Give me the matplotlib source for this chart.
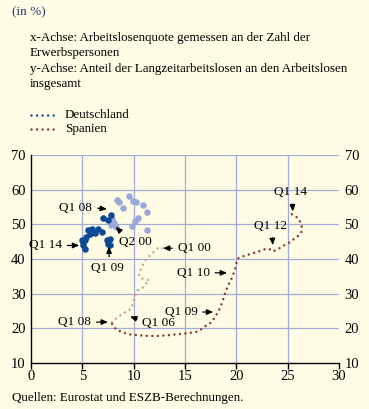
import numpy as np
import matplotlib
matplotlib.use("Agg")
import matplotlib.pyplot as plt

plt.rcParams['font.family'] = ['Liberation Serif', 'DejaVu Serif']

# Deutschland, 2000-2007 (hell) und 2008-2014 (dunkel)
de_light_x = [8.35, 8.6, 9.0, 9.57, 9.9, 10.2, 10.9, 11.3, 10.45, 10.1, 9.8, 11.3, 7.9, 8.1, 7.8, 8.25]
de_light_y = [56.9, 56.4, 54.6, 58.2, 56.8, 56.4, 55.5, 53.6, 51.7, 51.0, 49.4, 48.3, 51.5, 50.4, 49.8, 49.3]
de_dark_x = [7.76, 7.5, 7.04, 6.9, 6.55, 6.2, 5.9, 5.6, 5.75, 5.4, 5.26, 5.1, 5.0, 5.1, 5.26, 7.4, 7.7, 7.5, 7.7]
de_dark_y = [52.8, 51.3, 51.7, 47.8, 48.6, 47.4, 48.6, 48.3, 47.3, 46.3, 45.4, 44.9, 45.6, 43.9, 42.9, 45.4, 45.9, 44.4, 44.0]

# Spanien, Verlauf Q1 2000 - Q1 2008 (hell) und Q1 2008 - Q1 2014 (dunkel)
es_light_x = [12.8, 12.46, 11.78, 11.1, 10.7, 10.5, 10.6, 11.0, 11.5, 11.3, 11.1, 10.8, 10.4, 10.2,
              10.1, 9.9, 9.8, 9.6, 9.35, 9.0, 8.7, 8.35, 8.0, 7.85, 7.9]
es_light_y = [43.1, 43.4, 41.6, 39.5, 37.0, 35.9, 34.7, 34.1, 33.9, 33.3, 32.4, 31.5, 31.0, 30.1,
              28.7, 27.2, 25.8, 25.3, 25.1, 24.2, 23.7, 23.0, 22.2, 21.6, 21.3]
es_dark_x = [7.9, 8.3, 8.8, 9.5, 10.4, 11.4, 12.4, 13.3, 14.3, 15.3, 16.3, 16.7, 17.1, 17.6, 17.9,
             18.2, 18.6, 18.9, 19.2, 19.6, 19.9, 20.1, 20.5, 21.0, 22.0, 22.95, 23.4, 23.6, 24.2,
             24.7, 25.2, 25.7, 26.0, 26.3, 26.4, 26.3, 26.0, 25.8, 25.4]
es_dark_y = [21.3, 19.6, 19.0, 18.3, 18.0, 17.8, 17.8, 18.0, 18.3, 18.6, 19.1, 20.0, 20.9, 21.8, 23.2,
             24.6, 27.2, 30.1, 32.4, 34.7, 37.3, 40.1, 40.6, 41.1, 42.0, 43.0, 42.7, 42.2, 43.1,
             44.0, 44.8, 46.0, 46.6, 47.4, 48.9, 50.3, 51.7, 52.3, 52.9]

xticks = [0, 5, 10, 15, 20, 25, 30]
yticks = [10, 20, 30, 40, 50, 60, 70]

bg = '#FEFCE4'
grid_c = '#A3AAD6'
blue_dark = '#0E4A93'
blue_light = '#9AA8D8'
red_dark = '#8A3A2E'
red_light = '#CFA096'

fig = plt.figure(figsize=(3.69, 4.09), dpi=100, facecolor=bg)
ax = fig.add_axes([0.084, 0.1125, 0.8347, 0.5086], facecolor=bg)

for v in xticks[1:-1]:
    ax.axvline(v, color=grid_c, lw=0.9, zorder=0)
for v in yticks[1:]:
    ax.axhline(v, color=grid_c, lw=0.9, zorder=0)

dot = (0, (0.01, 2.2))
ax.plot(es_light_x, es_light_y, color=red_light, lw=1.8, ls=dot, dash_capstyle='round', zorder=2)
ax.plot(es_dark_x, es_dark_y, color=red_dark, lw=1.8, ls=dot, dash_capstyle='round', zorder=2)
ax.scatter(de_light_x, de_light_y, s=22, color=blue_light, lw=0, zorder=3)
ax.scatter(de_dark_x, de_dark_y, s=22, color=blue_dark, lw=0, zorder=3)

ax.set_xlim(0, 30)
ax.set_ylim(10, 70)
ax.set_xticks(xticks)
ax.set_yticks(yticks)
ax.spines['top'].set_visible(False)
ax.spines['right'].set_visible(False)
ax.spines['left'].set_linewidth(1.0)
ax.spines['bottom'].set_linewidth(1.0)
ax.tick_params(axis='x', length=4, width=1.0, labelsize=10.5, pad=1)
ax.tick_params(axis='y', length=0, labelsize=10.5, pad=4, labelright=True)

arw = dict(arrowstyle='-|>,head_length=0.4,head_width=0.17', color='black', lw=0.9,
           shrinkA=2, shrinkB=0)
fs = 9.5

def note(txt, xy, xytext, ha, va, rel):
    ap = dict(arw, relpos=rel)
    ax.annotate(txt, xy=xy, xytext=xytext, ha=ha, va=va, fontsize=fs,
                arrowprops=ap, zorder=5)

# Deutschland
note('Q1 08', (7.4, 54.4), (5.95, 54.8), 'right', 'center', (1, 0.5))
note('Q2 00', (8.25, 49.3), (8.55, 44.8), 'left', 'center', (0.2, 1))
note('Q1 14', (4.7, 43.9), (3.0, 43.9), 'right', 'center', (1, 0.5))
note('Q1 09', (7.6, 43.6), (7.45, 37.3), 'center', 'center', (0.55, 1))
# Spanien
note('Q1 00', (12.85, 43.1), (14.3, 43.1), 'left', 'center', (0, 0.5))
note('Q1 08', (7.5, 21.8), (5.85, 21.8), 'right', 'center', (1, 0.5))
note('Q1 06', (9.64, 23.4), (10.85, 21.5), 'left', 'center', (0, 0.7))
note('Q1 09', (17.75, 24.7), (16.2, 24.7), 'right', 'center', (1, 0.5))
note('Q1 10', (19.1, 36.0), (17.4, 36.0), 'right', 'center', (1, 0.5))
note('Q1 12', (23.56, 44.0), (23.3, 49.4), 'center', 'center', (0.55, 0))
note('Q1 14', (25.5, 53.7), (25.27, 59.2), 'center', 'center', (0.55, 0))

fig.text(0.0325, 0.971, '(in %)', fontsize=9.5, color='#23396E', va='center')
lines = ['x-Achse: Arbeitslosenquote gemessen an der Zahl der',
         'Erwerbspersonen',
         'y-Achse: Anteil der Langzeitarbeitslosen an den Arbeitslosen',
         'insgesamt']
for t, yy in zip(lines, [0.907, 0.870, 0.831, 0.795]):
    fig.text(0.081, yy, t, fontsize=9.4, va='center')

for lab, c, yy in [('Deutschland', blue_dark, 0.719), ('Spanien', red_dark, 0.685)]:
    fig.add_artist(plt.Line2D([0.085, 0.147], [yy, yy], transform=fig.transFigure, color=c,
                              lw=1.8, ls=(0, (0.01, 2.2)), dash_capstyle='round'))
    fig.text(0.176, yy, lab, fontsize=9.4, va='center')

fig.text(0.0325, 0.027, 'Quellen: Eurostat und ESZB-Berechnungen.', fontsize=9.4, va='center')

fig.savefig('out.png', dpi=100, facecolor=bg)
